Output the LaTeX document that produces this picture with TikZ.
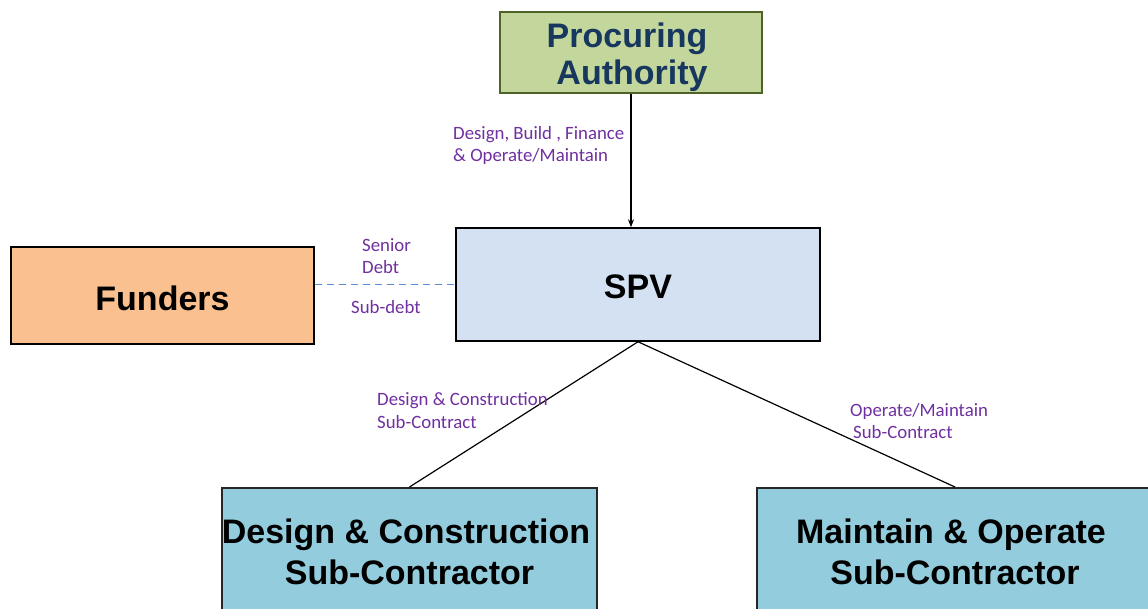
\documentclass[tikz,border=0pt]{standalone}
\usepackage{fontspec}
\setmainfont{Liberation Sans}
\newfontfamily\lblfont{Carlito}
\usetikzlibrary{arrows.meta}
\definecolor{pafill}{HTML}{C3D69B}
\definecolor{padraw}{HTML}{4F6228}
\definecolor{patext}{HTML}{17375E}
\definecolor{spvfill}{HTML}{D3E1F3}
\definecolor{fundfill}{HTML}{FAC090}
\definecolor{subfill}{HTML}{93CDDD}
\definecolor{lblcol}{HTML}{7030A0}
\definecolor{dashcol}{HTML}{558ED5}
\tikzset{
  box/.style={draw=black, line width=1.5pt, inner sep=0pt},
  bigtext/.style={font=\fontsize{34}{34}\selectfont\bfseries, anchor=base, inner sep=0pt},
  lbl/.style={font=\lblfont\fontsize{18.8}{22}\selectfont, text=lblcol, anchor=base west, inner sep=0pt},
  conn/.style={draw=black, line width=1.2pt}
}
\begin{document}
\begin{tikzpicture}[x=1pt,y=-1pt]
\useasboundingbox (0,0) rectangle (1148,608);
\fill[white] (0,0) rectangle (1148,608);
\begin{scope}
\clip (0,0) rectangle (1148,608);
% boxes
\node[box, draw=padraw, fill=pafill, minimum width=262pt, minimum height=81pt] (pa) at (631,52.5) {};
\node[box, fill=spvfill, minimum width=364pt, minimum height=113pt] (spv) at (638,284.5) {};
\node[box, fill=fundfill, minimum width=303pt, minimum height=97pt] (fund) at (162.5,295.5) {};
\node[box, draw=black!85, fill=subfill, minimum width=375pt, minimum height=160pt, anchor=north] (dc) at (409.5,487) {};
\node[box, draw=black!85, fill=subfill, minimum width=396pt, minimum height=160pt, anchor=north] (mo) at (955,487) {};
% box texts
\node[bigtext, text=patext] (pa1) at (627,47) {Procuring};
\node[bigtext, text=patext] (pa2) at (632,84) {Authority};
\node[bigtext] (spvt) at (638,298) {SPV};
\node[bigtext] (fundt) at (162.5,310) {Funders};
\node[bigtext] (dc1) at (406,543) {Design \& Construction};
\node[bigtext] (dc2) at (409.5,584) {Sub-Contractor};
\node[bigtext] (mo1) at (951,543) {Maintain \& Operate};
\node[bigtext] (mo2) at (955,584) {Sub-Contractor};
% connectors
\draw[line width=1.4pt, -{Stealth[length=8pt,width=6pt]}] (pa.south) -- (pa.south |- spv.north);
\draw[dashcol, line width=1.6pt, dash pattern=on 7pt off 5pt] (fund.east |- spv.west) -- (spv.west);
\draw[conn] (spv.south) -- (dc.north);
\draw[conn] (spv.south) -- (mo.north);
% labels
\node[lbl] (l1) at (453,139) {Design, Build , Finance};
\node[lbl] (l2) at (453,161) {\& Operate/Maintain};
\node[lbl] (l3) at (362,251) {Senior};
\node[lbl] (l4) at (362,273) {Debt};
\node[lbl] (l5) at (351,313) {Sub-debt};
\node[lbl] (l6) at (377,405) {Design \& Construction};
\node[lbl] (l7) at (377,428) {Sub-Contract};
\node[lbl] (l8) at (850,416) {Operate/Maintain};
\node[lbl] (l9) at (853,438) {Sub-Contract};
\end{scope}
\end{tikzpicture}
\end{document}
